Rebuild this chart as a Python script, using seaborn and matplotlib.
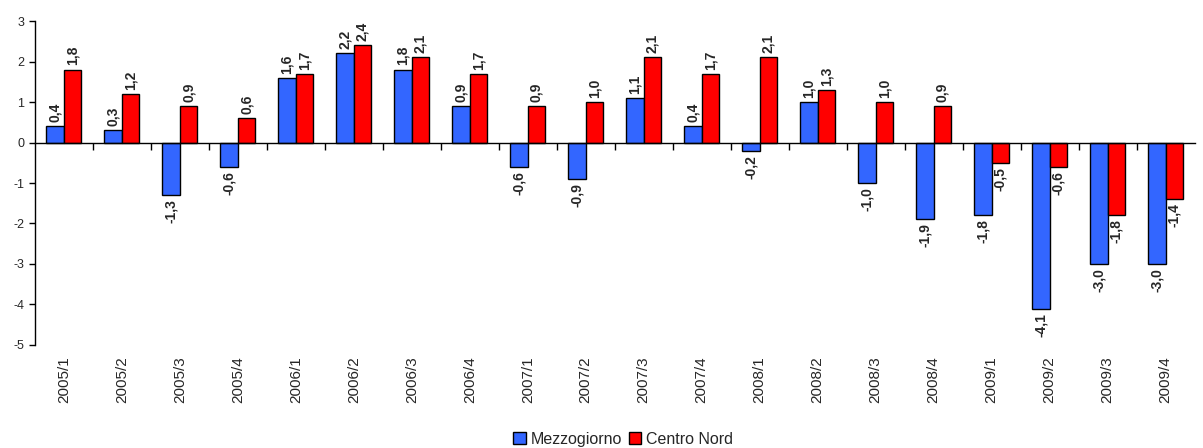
import numpy as np
import pandas as pd
import matplotlib
matplotlib.use("Agg")
import matplotlib.pyplot as plt
import seaborn as sns

quarters = ["2005/1", "2005/2", "2005/3", "2005/4",
            "2006/1", "2006/2", "2006/3", "2006/4",
            "2007/1", "2007/2", "2007/3", "2007/4",
            "2008/1", "2008/2", "2008/3", "2008/4",
            "2009/1", "2009/2", "2009/3", "2009/4"]
mezzogiorno = [0.4, 0.3, -1.3, -0.6, 1.6, 2.2, 1.8, 0.9, -0.6, -0.9,
               1.1, 0.4, -0.2, 1.0, -1.0, -1.9, -1.8, -4.1, -3.0, -3.0]
centro_nord = [1.8, 1.2, 0.9, 0.6, 1.7, 2.4, 2.1, 1.7, 0.9, 1.0,
               2.1, 1.7, 2.1, 1.3, 1.0, 0.9, -0.5, -0.6, -1.8, -1.4]
series = ["Mezzogiorno", "Centro Nord"]
colors = ["#3366FF", "#FF0000"]

df = pd.DataFrame({
    "periodo": quarters * 2,
    "valore": mezzogiorno + centro_nord,
    "area": [series[0]] * len(quarters) + [series[1]] * len(quarters),
})

sns.set_style("white")
plt.rcParams["font.family"] = ["Liberation Sans", "DejaVu Sans"]

fig = plt.figure(figsize=(12.03, 4.48), dpi=100)
ax = fig.add_axes([0.029, 0.230, 0.964, 0.723])

sns.barplot(data=df, x="periodo", y="valore", hue="area", order=quarters,
            hue_order=series, palette=colors, saturation=1, width=0.6,
            edgecolor="black", linewidth=1.0, ax=ax, legend=True)

ax.set_ylim(-5, 3)
ax.set_xlim(-0.5, len(quarters) - 0.5)
ax.set_yticks(range(-5, 4))
ax.set_yticklabels([str(v) for v in range(-5, 4)], fontsize=9)
ax.set_xlabel("")
ax.set_ylabel("")
ax.tick_params(axis="y", direction="out", length=4, width=1, color="black", left=True)
ax.tick_params(axis="x", length=0, pad=8, labelsize=11, labelrotation=90)

for side in ["top", "right", "bottom"]:
    ax.spines[side].set_visible(False)
ax.spines["left"].set_color("black")
ax.spines["left"].set_linewidth(1)

# zero line carrying the category separator ticks (pointing down)
zero = ax.secondary_xaxis(5 / 8)
zero.set_xticks(np.arange(0.5, len(quarters) - 0.5, 1.0))
zero.set_xticklabels([])
zero.tick_params(axis="x", direction="in", length=5, width=1, color="black")
for sp in zero.spines.values():
    sp.set_color("black")
    sp.set_linewidth(1)
zero.set_zorder(5)

# value labels on each bar
for container in ax.containers:
    labels = [f"{v:.1f}".replace(".", ",") for v in container.datavalues]
    for bar, lab, v in zip(container, labels, container.datavalues):
        xc = bar.get_x() + bar.get_width() / 2
        if v >= 0:
            ax.annotate(lab, (xc, v), xytext=(0, 3), textcoords="offset points",
                        rotation=90, ha="center", va="bottom",
                        fontsize=10, fontweight="bold")
        else:
            ax.annotate(lab, (xc, v), xytext=(0, -3), textcoords="offset points",
                        rotation=90, ha="center", va="top",
                        fontsize=10, fontweight="bold")

leg = ax.legend(loc="lower center", bbox_to_anchor=(0.518, 0.003),
                bbox_transform=fig.transFigure, ncol=2, frameon=False,
                fontsize=11.5, handlelength=0.8, handleheight=0.8,
                handletextpad=0.3, columnspacing=0.4, borderaxespad=0,
                borderpad=0)

fig.savefig("out.png", dpi=100)
